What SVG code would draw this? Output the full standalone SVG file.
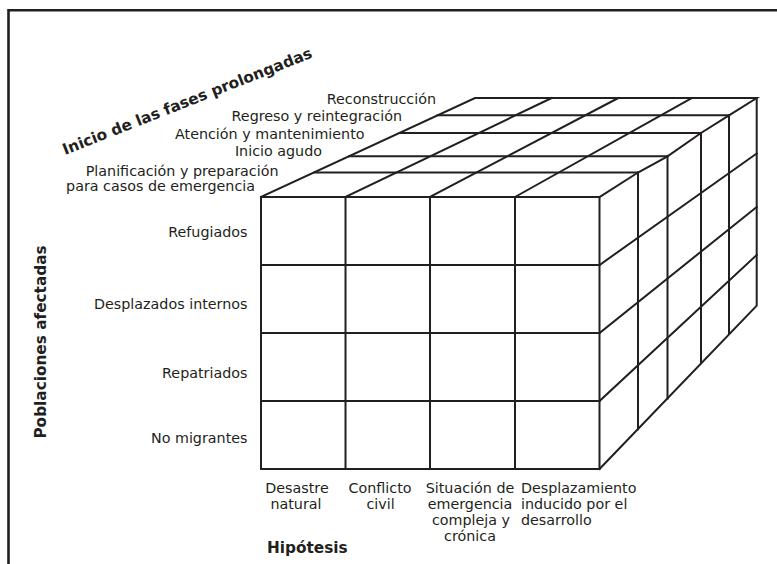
<svg xmlns="http://www.w3.org/2000/svg" width="777" height="564" viewBox="0 0 777 564">
<style>
.ln{fill:none;stroke:#231f20;stroke-width:2;stroke-linecap:square;stroke-linejoin:miter}
.fr{fill:none;stroke:#231f20;stroke-width:2.6}
.t{font-family:"DejaVu Sans",sans-serif;font-size:14.3px;fill:#231f20}
.b{font-family:"DejaVu Sans",sans-serif;font-weight:bold;font-size:15.3px;fill:#231f20}
.e{text-anchor:end}
.m{text-anchor:middle}
</style>
<rect width="777" height="564" fill="#ffffff"/>
<g id="frame">
<path class="fr" d="M8.5 564 V10.3 H777"/>
</g>
<g id="cube">
<g id="front-face">
<path class="ln" d="M261 197 H599.5 V469 H261 Z"/>
<path class="ln" d="M261 265 H599.5 M261 333 H599.5 M261 401 H599.5"/>
<path class="ln" d="M345.5 197 V469 M430 197 V469 M515 197 V469"/>
</g>
<g id="top-face">
<path class="ln" d="M261 197 L475 98 H756.7 L729 115.3 L701 133 L667.5 156.3 L638 172.5 L599.5 197"/>
<path class="ln" d="M314.5 172.5 H638 M349 156.3 H667.5 M399.5 133 H701 M437.6 115.3 H729"/>
<path class="ln" d="M345.5 197 L551.7 98 M430 197 L618.3 98 M515 197 L691.7 98"/>
</g>
<g id="right-face">
<path class="ln" d="M599.5 469 L756.7 305.7 V98"/>
<path class="ln" d="M638 172.5 V429.3 M667.5 156.3 V398.4 M701 133 V363.3 M729 115.3 V333.3"/>
<path class="ln" d="M599.5 265 L756.7 153.5 M599.5 333 L756.7 207 M599.5 401 L756.7 255"/>
</g>
</g>
<g id="phase-labels">
<text class="b" transform="translate(65,155) rotate(-21.5)">Inicio de las fases prolongadas</text>
<text class="t e" x="436" y="104">Reconstrucción</text>
<text class="t e" x="402" y="121">Regreso y reintegración</text>
<text class="t e" x="364.5" y="138.5">Atención y mantenimiento</text>
<text class="t e" x="322" y="156">Inicio agudo</text>
<text class="t e" x="278.5" y="176">Planificación y preparación</text>
<text class="t e" x="255" y="191">para casos de emergencia</text>
</g>
<g id="population-labels">
<text class="b m" transform="translate(46,342) rotate(-90)">Poblaciones afectadas</text>
<text class="t e" x="247.5" y="237.3">Refugiados</text>
<text class="t e" x="247.5" y="309.3">Desplazados internos</text>
<text class="t e" x="247.5" y="378.3">Repatriados</text>
<text class="t e" x="247.5" y="443.3">No migrantes</text>
</g>
<g id="hypothesis-labels">
<text class="t m" x="297" y="493">Desastre</text>
<text class="t m" x="296" y="509">natural</text>
<text class="t m" x="380" y="493">Conflicto</text>
<text class="t m" x="380.5" y="509">civil</text>
<text class="t m" x="470" y="493">Situación de</text>
<text class="t m" x="470" y="509">emergencia</text>
<text class="t m" x="471" y="525">compleja y</text>
<text class="t m" x="470" y="541">crónica</text>
<text class="t" x="521" y="493">Desplazamiento</text>
<text class="t" x="521" y="509">inducido por el</text>
<text class="t" x="521" y="525">desarrollo</text>
<text class="b" x="267" y="553">Hipótesis</text>
</g>
</svg>
